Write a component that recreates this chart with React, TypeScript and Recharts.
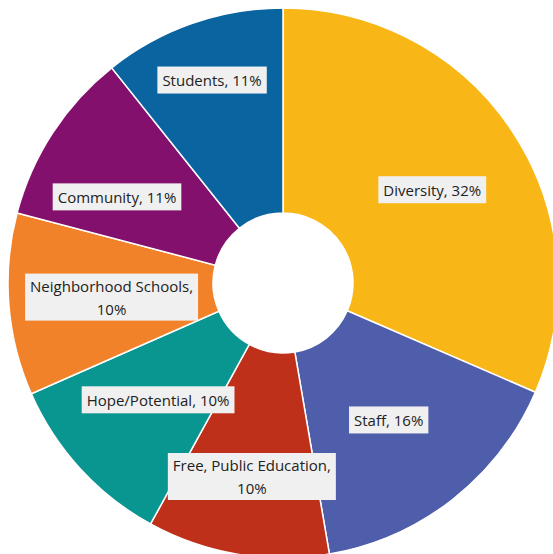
import React from 'react';
import { PieChart, Pie, Cell } from 'recharts';

const names = ['Diversity', 'Staff', 'Free, Public Education', 'Hope/Potential', 'Neighborhood Schools', 'Community', 'Students'];
// slice sizes (percent of the ring)
const shares = [31.5, 15.8, 10.7, 10.4, 10.7, 10.2, 10.7];
// percentages printed in the labels
const labelPercents = [32, 16, 10, 10, 10, 11, 11];
const colors = ['#F8B617', '#4F5EAA', '#BE3019', '#0A9690', '#F28229', '#84106E', '#0A64A0'];

const data = names.map((name, i) => ({ name, value: shares[i], pct: labelPercents[i] }));

// label placement: distance from center and angular nudge (degrees, clockwise)
const labelRadius = [176, 173, 196, 171, 172, 187, 215];
const labelNudge = [1.3, 0.5, -0.4, -0.6, -0.2, -5.7, 0];

const FONT = '"Open Sans", sans-serif';
const FONT_SIZE = 15;

let ctx: CanvasRenderingContext2D | null = null;
function measure(t: string): number {
  if (!ctx) {
    const c = document.createElement('canvas');
    ctx = c.getContext('2d');
  }
  if (!ctx) return t.length * 8;
  ctx.font = `${FONT_SIZE}px ${FONT}`;
  return ctx.measureText(t).width;
}

const RAD = Math.PI / 180;

function renderLabel(props: any) {
  const { cx, cy, midAngle, index, name } = props;
  const pct = labelPercents[index];
  const r = labelRadius[index] ?? 180;
  const a = midAngle - (labelNudge[index] ?? 0);
  const x = cx + r * Math.cos(-a * RAD);
  const y = cy + r * Math.sin(-a * RAD);
  const lines = name.length > 16 ? [`${name},`, `${pct}%`] : [`${name}, ${pct}%`];
  const w = Math.max(...lines.map(measure)) + 10;
  const lh = 23;
  const h = lines.length === 1 ? 27 : 47;
  const top = y - h / 2;
  return (
    <g key={`lbl-${index}`}>
      <rect x={x - w / 2} y={top} width={w} height={h} fill="#F0F0F0" />
      {lines.map((ln, k) => (
        <text
          key={k}
          x={x}
          y={y + (k - (lines.length - 1) / 2) * lh}
          textAnchor="middle"
          dominantBaseline="central"
          fontFamily={FONT}
          fontSize={FONT_SIZE}
          fill="#222222"
        >
          {ln}
        </text>
      ))}
    </g>
  );
}

export default function App() {
  return (
    <div style={{ position: 'fixed', left: 0, top: 0, width: 553, height: 554, background: '#fff', overflow: 'hidden' }}>
      <PieChart width={553} height={554} margin={{ top: 0, right: 0, bottom: 0, left: 0 }}>
        <Pie
          data={data}
          dataKey="value"
          nameKey="name"
          cx={283}
          cy={283}
          innerRadius={70}
          outerRadius={275}
          startAngle={90}
          endAngle={-270}
          stroke="#ffffff"
          strokeWidth={1.5}
          label={renderLabel}
          labelLine={false}
          isAnimationActive={false}
        >
          {data.map((d, i) => (
            <Cell key={d.name} fill={colors[i]} />
          ))}
        </Pie>
      </PieChart>
    </div>
  );
}
